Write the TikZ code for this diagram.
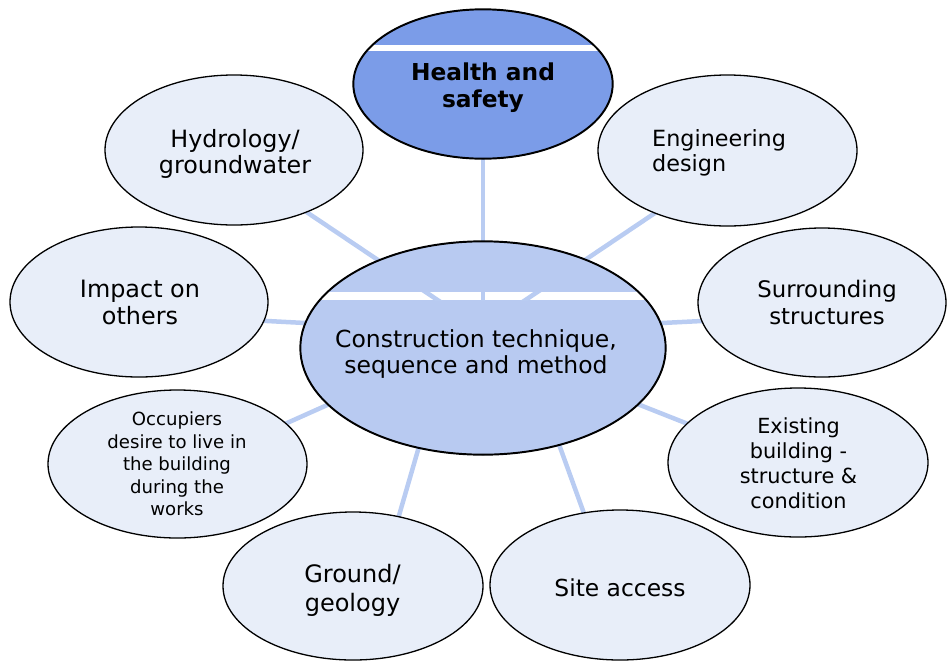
\documentclass[tikz,border=0pt]{standalone}
\usepackage{fontspec}
\setmainfont{DejaVu Sans}
\usetikzlibrary{shapes.geometric,calc}
\pgfdeclarelayer{background}
\pgfsetlayers{background,main}
\definecolor{outerfill}{HTML}{E8EEF9}
\definecolor{centerfill}{HTML}{B8CAF1}
\definecolor{topfill}{HTML}{7B9CE8}
\definecolor{connblue}{HTML}{B9CCF2}
\newcommand{\fsz}[2]{\fontsize{#1}{#2}\selectfont}
\begin{document}
\begin{tikzpicture}[x=1pt,y=-1pt,
  bubble/.style={ellipse,draw=black,line width=1.3pt,inner sep=0pt,fill=outerfill},
  txt/.style={align=center,inner sep=0pt},
  conn/.style={draw=connblue,line width=4.5pt}]
\useasboundingbox (0,0) rectangle (947,662);
% ellipses
\node[bubble,fill=topfill,minimum width=260pt,minimum height=150pt] (hs) at (483,84) {};
\node[bubble,minimum width=258pt,minimum height=150pt] (hyd) at (234,150) {};
\node[bubble,minimum width=259pt,minimum height=151pt] (eng) at (727.5,150.5) {};
\node[bubble,minimum width=258pt,minimum height=150pt] (imp) at (139,302) {};
\node[bubble,minimum width=248pt,minimum height=149pt] (sur) at (822,302.5) {};
\node[bubble,minimum width=259pt,minimum height=148pt] (occ) at (177.5,464) {};
\node[bubble,minimum width=260pt,minimum height=149pt] (exi) at (798,462.5) {};
\node[bubble,minimum width=260pt,minimum height=148pt] (gro) at (353,586) {};
\node[bubble,minimum width=260pt,minimum height=150pt] (sit) at (620,585) {};
\node[bubble,fill=centerfill,minimum width=366pt,minimum height=214pt] (c) at (483,348) {};
% connectors behind
\newcommand{\conns}{%
  \draw[conn] (c.center) -- (hs.center);
  \draw[conn] ($(c.center)+(-39.5,-44)$) -- ($(hyd.center)+(39.7,40)$);
  \draw[conn] ($(c.center)+(36.5,-44)$) -- ($(eng.center)+(-38.3,39.5)$);
  \draw[conn] ($(c.center)+(-153,-23.7)$) -- ($(imp.center)+(111,18.1)$);
  \draw[conn] ($(c.center)+(157,-23.9)$) -- ($(sur.center)+(-102,17.6)$);
  \draw[conn] ($(c.center)+(-143,51.3)$) -- ($(occ.center)+(92.5,-33.4)$);
  \draw[conn] ($(c.center)+(142,51.1)$) -- ($(exi.center)+(-93,-31.8)$);
  \draw[conn] ($(c.center)+(-59.2,82)$) -- ($(gro.center)+(41.8,-56)$);
  \draw[conn] ($(c.center)+(70.8,82)$) -- ($(sit.center)+(-30,-55)$);
}
\begin{pgfonlayer}{background}
\conns
\end{pgfonlayer}
% white stripes
\begin{scope}
  \clip (c.center) ellipse [x radius=182.4pt, y radius=106.4pt];
  \fill[white] (300,292) rectangle (666,300);
  \clip (300,292) rectangle (666,300);
  \conns
\end{scope}
\draw[line width=1.3pt] (c.center) ellipse [x radius=182.35pt, y radius=106.35pt];
\begin{scope}
  \clip (hs.center) ellipse [x radius=129.4pt, y radius=74.4pt];
  \fill[white] (350,45) rectangle (620,51);
  \clip (350,45) rectangle (620,51);
  \draw[conn] (c.center) -- (hs.center);
\end{scope}
\draw[line width=1.3pt] (hs.center) ellipse [x radius=129.35pt, y radius=74.35pt];
% texts
\node[txt,font=\bfseries\fsz{23.3}{27}] at (483,88) {Health and\\safety};
\node[txt,font=\fsz{23.8}{26}] at (235,154) {Hydrology/\\groundwater};
\node[txt,font=\fsz{22.3}{24.7},align=left,anchor=west] at (652,152.5) {Engineering\\design};
\node[txt,font=\fsz{23.9}{27.7}] at (140,302.5) {Impact on\\others};
\node[txt,font=\fsz{22.8}{27.7}] at (827,302.4) {Surrounding\\structures};
\node[txt,font=\fsz{23.5}{26.7}] at (476,354) {Construction technique,\\sequence and method};
\node[txt,font=\fsz{18.1}{22.5}] at (177,464) {Occupiers\\desire to live in\\the building\\during the\\works};
\node[txt,font=\fsz{20.8}{25}] at (798.5,463) {Existing\\building -\\structure \&\\condition};
\node[txt,font=\fsz{24}{28.3}] at (352.5,590.5) {Ground/\\geology};
\node[txt,font=\fsz{23.4}{27}] at (620,587.5) {Site access};
\end{tikzpicture}
\end{document}
